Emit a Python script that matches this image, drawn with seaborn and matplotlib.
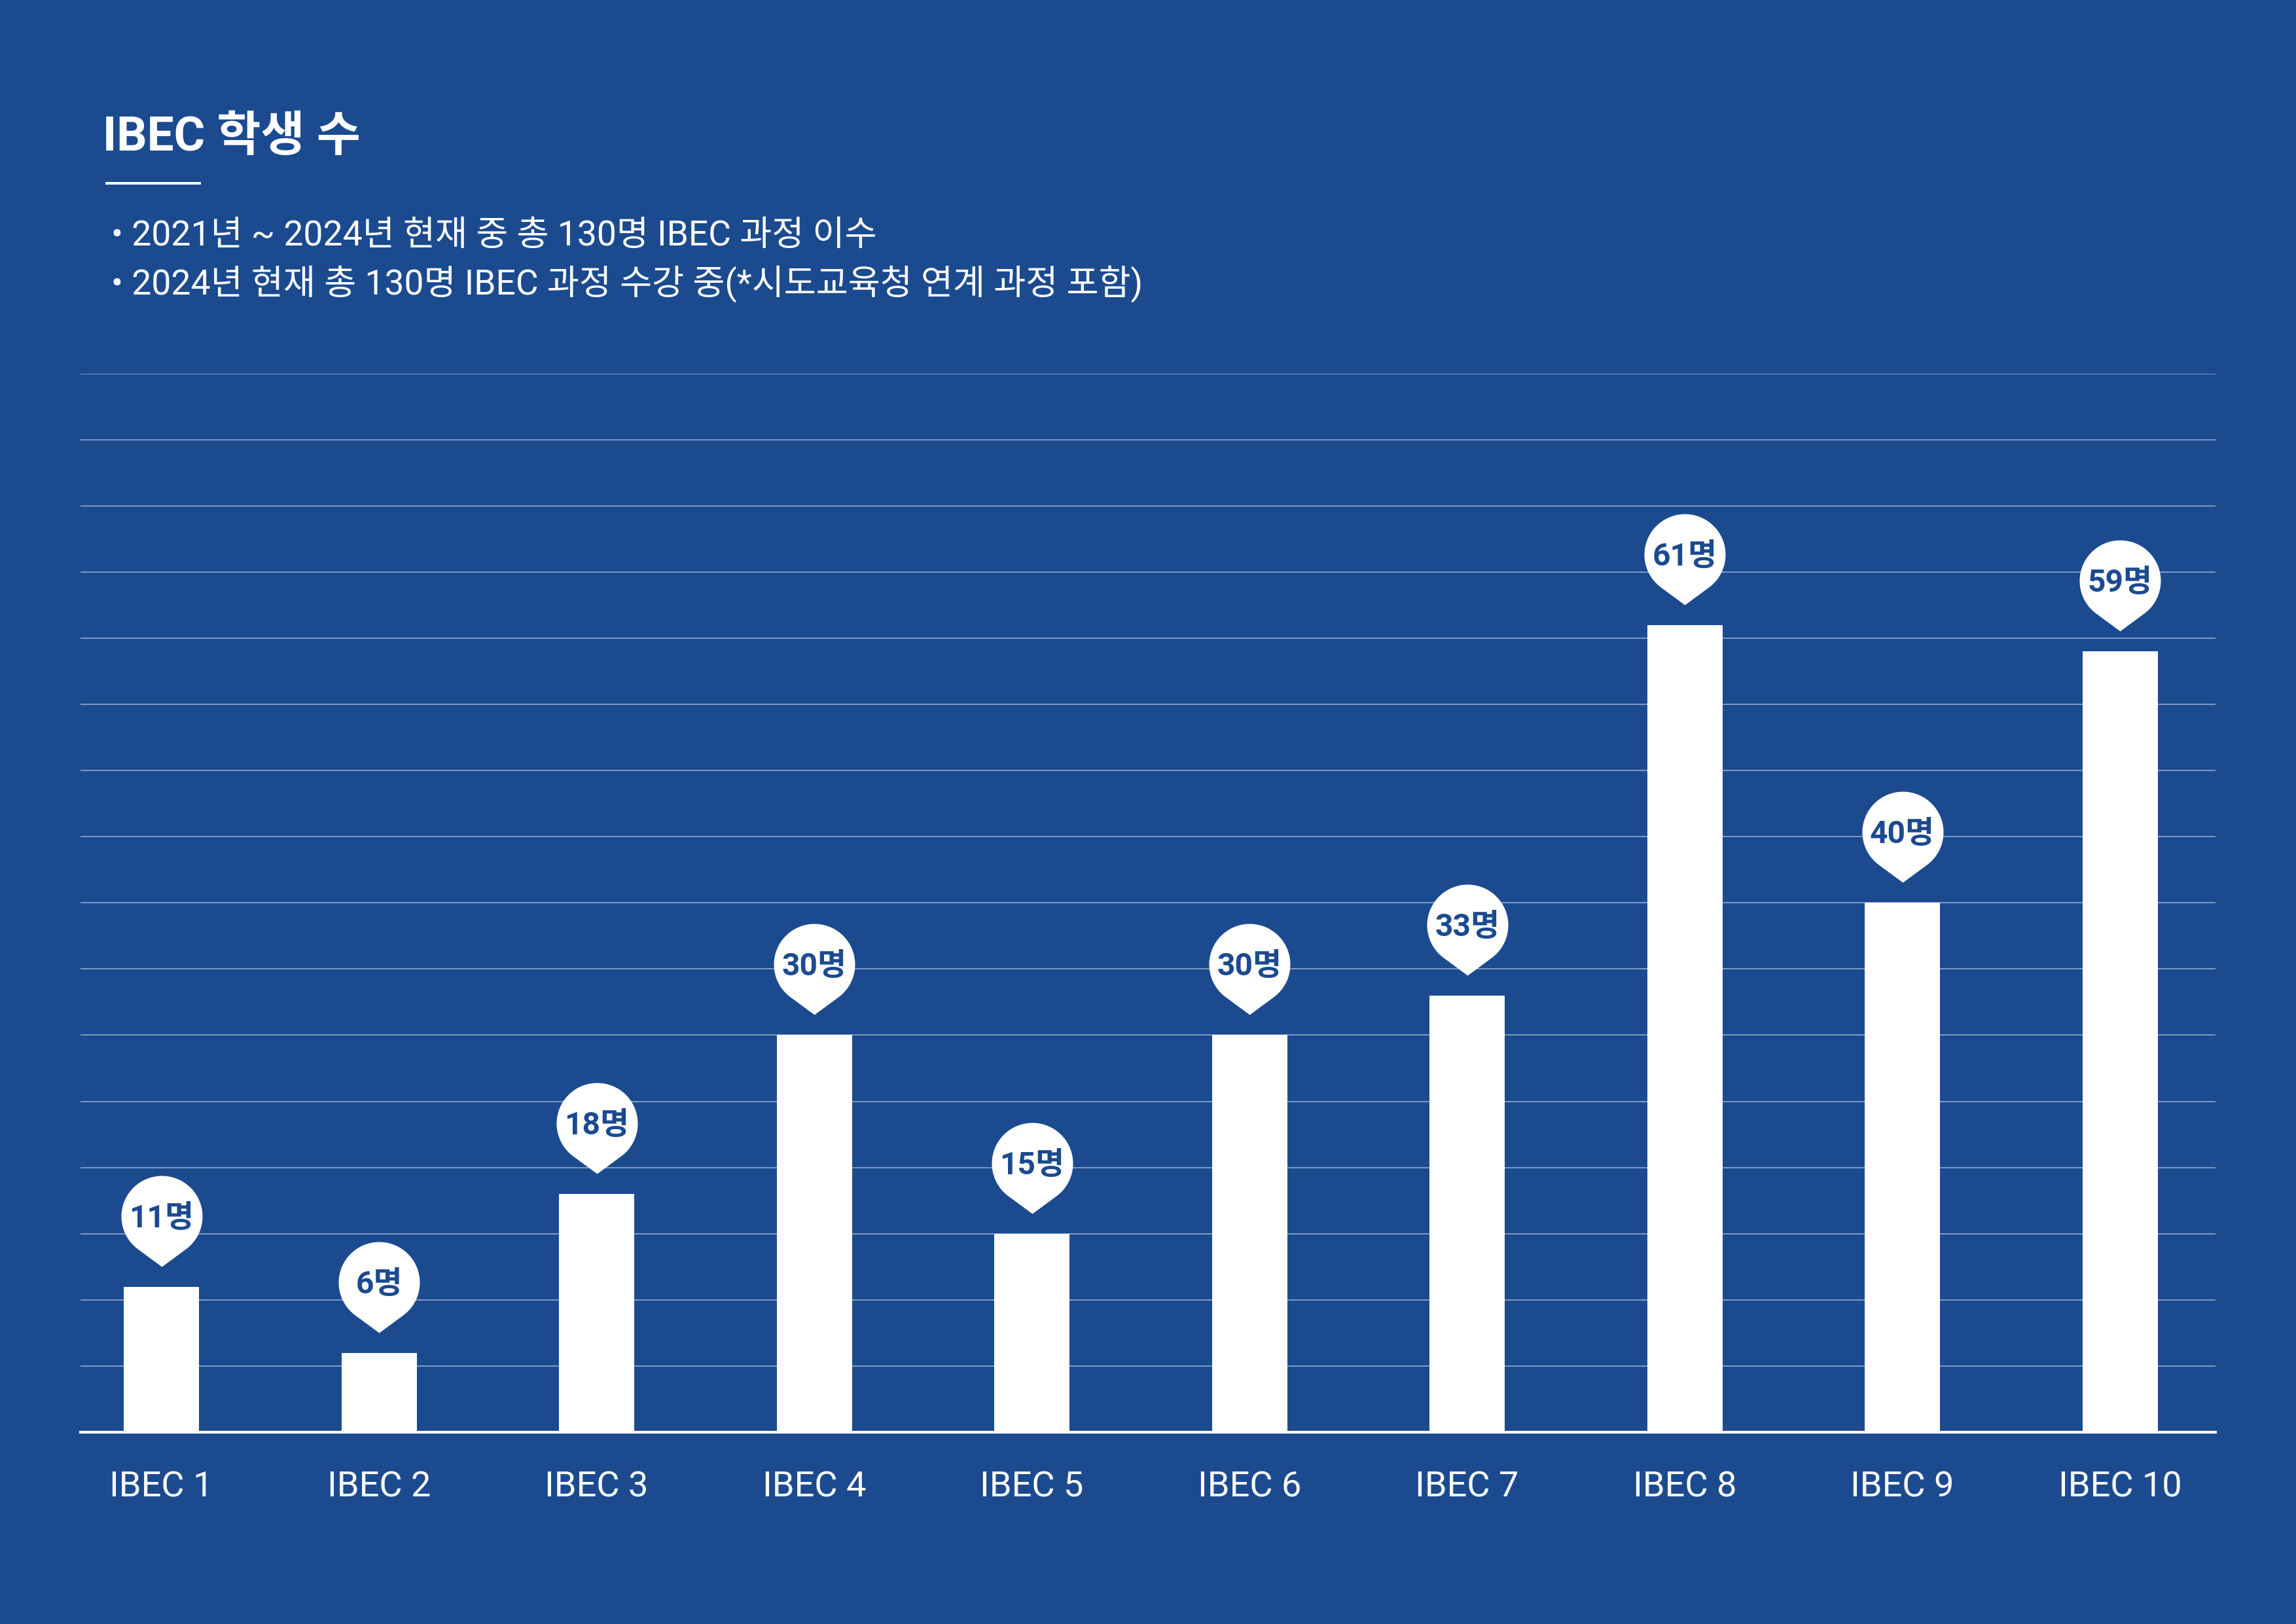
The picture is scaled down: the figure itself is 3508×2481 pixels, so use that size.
import numpy as np
import pandas as pd
import matplotlib
matplotlib.use("Agg")
import matplotlib.pyplot as plt
from matplotlib.path import Path
from matplotlib.lines import Line2D
import seaborn as sns

# ---- data ----
categories = ["IBEC 1", "IBEC 2", "IBEC 3", "IBEC 4", "IBEC 5",
              "IBEC 6", "IBEC 7", "IBEC 8", "IBEC 9", "IBEC 10"]
students = [11, 6, 18, 30, 15, 30, 33, 61, 40, 59]
label_suffix = "명"
title_text = "IBEC 학생 수"
notes = ["• 2021년 ~ 2024년 현재 중 총 130명 IBEC 과정 이수",
         "• 2024년 현재 총 130명 IBEC 과정 수강 중(*시도교육청 연계 과정 포함)"]
y_max = 80
y_step = 5

# ---- style ----
BG = "#1B4A8F"
FAM = ["Roboto", "Noto Sans CJK KR"]
sns.set_theme(style="white")
plt.rcParams["font.family"] = FAM

W, H, DPI = 3508, 2481, 300
fig = plt.figure(figsize=(W / DPI, H / DPI), dpi=DPI, facecolor=BG)
ax = fig.add_axes([123 / W, 293 / H, 3262 / W, (2188 - 570.5) / H])
ax.set_facecolor(BG)

df = pd.DataFrame({"course": categories, "students": students})
sns.barplot(data=df, x="course", y="students", color="white", saturation=1,
            width=0.346, linewidth=0, ax=ax, zorder=3)

ax.set_xlim(-0.372, 9.439)
ax.set_ylim(0, y_max)
ax.set_yticks(np.arange(0, y_max + 1, y_step))
ax.yaxis.grid(True, color="white", alpha=0.5, linewidth=0.42)
ax.xaxis.grid(False)
ax.set_axisbelow(True)
ax.tick_params(axis="y", left=False, labelleft=False)
ax.tick_params(axis="x", length=0, pad=14, labelsize=13, labelcolor="white")
for lab in ax.get_xticklabels():
    lab.set_family(FAM)
ax.set_xlabel("")
ax.set_ylabel("")
for s in ["top", "left", "right"]:
    ax.spines[s].set_visible(False)
ax.spines["bottom"].set_color("white")
ax.spines["bottom"].set_linewidth(1.0)
ax.spines["bottom"].set_zorder(4)

# ---- pin marker (tip offset above bar top) ----
R, cy, tip = 62.0, 108.0, 31.0
theta = np.degrees(np.arccos(R / (cy - tip)))
ang = np.radians(np.linspace(-90 + theta, 270 - theta, 120))
verts = [(R * np.cos(a), cy + R * np.sin(a)) for a in ang] + [(0.0, tip)]
verts.append(verts[0])
codes = [Path.MOVETO] + [Path.LINETO] * (len(verts) - 2) + [Path.CLOSEPOLY]
pin = Path(verts, codes)
msize = 2 * (cy + R) * 72 / DPI

xpos = np.arange(len(categories))
ax.plot(xpos, students, linestyle="none", marker=pin, markersize=msize,
        markerfacecolor="white", markeredgewidth=0, clip_on=False, zorder=5)
for x, v in zip(xpos, students):
    ax.annotate(f"{v}{label_suffix}", xy=(x, v), xytext=(0, (cy - 17) * 72 / DPI),
                textcoords="offset points", ha="center", va="baseline",
                fontsize=11.5, fontweight="bold", color=BG, family=FAM,
                zorder=6, annotation_clip=False)

# ---- header ----
fig.text(157 / W, 1 - 230 / H, title_text, color="white", fontsize=17.5,
         fontweight="bold", family=FAM, ha="left", va="baseline")
fig.add_artist(Line2D([161 / W, 307 / W], [1 - 279.5 / H] * 2, color="white",
                      linewidth=0.96, solid_capstyle="butt"))
for i, note in enumerate(notes):
    fig.text(170 / W, 1 - (375 + 75 * i) / H, note, color="white", fontsize=12.8,
             fontweight="normal", family=FAM, ha="left", va="baseline")

fig.savefig("out.png", dpi=DPI, facecolor=BG)
